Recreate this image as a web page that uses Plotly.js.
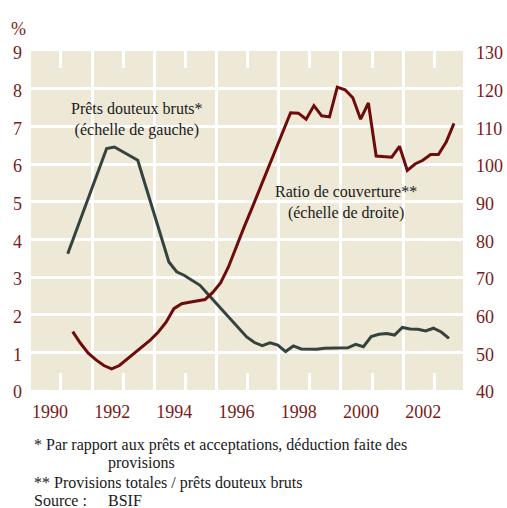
<!DOCTYPE html>
<html>
<head>
<meta charset="utf-8">
<script src="https://cdn.plot.ly/plotly-3.0.1.min.js"></script>
<style>html,body{margin:0;padding:0;background:#fff;}#chart{width:507px;height:508px;}</style>
</head>
<body>
<div id="chart"></div>
<script>
// Prêts douteux bruts (% , échelle de gauche)
const grossX = [1990.62, 1991.87, 1992.12, 1992.87, 1993.87, 1994.12, 1994.37, 1994.87, 1995.12, 1996.37, 1996.62, 1996.87, 1997.12, 1997.37, 1997.62, 1997.87, 1998.12, 1998.37, 1998.62, 1998.87, 1999.12, 1999.37, 1999.62, 1999.87, 2000.12, 2000.37, 2000.62, 2000.87, 2001.12, 2001.37, 2001.62, 2001.87, 2002.12, 2002.37, 2002.62, 2002.87];
const grossY = [3.62, 6.41, 6.45, 6.10, 3.40, 3.14, 3.04, 2.78, 2.55, 1.41, 1.26, 1.18, 1.25, 1.19, 1.02, 1.17, 1.09, 1.08, 1.08, 1.11, 1.11, 1.11, 1.12, 1.21, 1.15, 1.42, 1.48, 1.50, 1.46, 1.66, 1.62, 1.61, 1.57, 1.64, 1.54, 1.37];

// Ratio de couverture (échelle de droite)
const ratioX = [1990.78, 1991.03, 1991.28, 1991.53, 1991.78, 1992.03, 1992.28, 1992.53, 1992.78, 1993.03, 1993.28, 1993.53, 1993.78, 1994.03, 1994.28, 1994.53, 1994.78, 1995.03, 1995.28, 1995.53, 1995.78, 1996.03, 1996.28, 1996.53, 1996.78, 1997.03, 1997.28, 1997.53, 1997.78, 1998.03, 1998.28, 1998.53, 1998.78, 1999.03, 1999.28, 1999.53, 1999.78, 2000.03, 2000.28, 2000.53, 2000.78, 2001.03, 2001.28, 2001.53, 2001.78, 2002.03, 2002.28, 2002.53, 2002.78, 2003.03];
const ratioY = [55.5, 52.4, 49.8, 48.0, 46.5, 45.6, 46.5, 48.2, 49.9, 51.5, 53.3, 55.4, 58.0, 61.6, 62.9, 63.3, 63.7, 64.0, 65.9, 68.4, 72.6, 78.0, 83.1, 88.1, 93.2, 98.3, 103.4, 108.5, 113.6, 113.5, 111.9, 115.5, 112.8, 112.5, 120.4, 119.7, 117.6, 111.9, 116.2, 102.1, 101.9, 101.8, 104.7, 98.3, 100.0, 101.0, 102.5, 102.5, 105.8, 110.8];

// Axis ticks
const yearTickVals = [1990.4, 1992.4, 1994.4, 1996.4, 1998.4, 2000.4, 2002.4];
const yearTickText = ['1990', '1992', '1994', '1996', '1998', '2000', '2002'];
const yearGridVals = [1991.4, 1993.4, 1995.4, 1997.4, 1999.4, 2001.4];
const leftTicks = [0, 1, 2, 3, 4, 5, 6, 7, 8, 9];
const rightTicks = [40, 50, 60, 70, 80, 90, 100, 110, 120, 130];

const FONT = 'Liberation Serif, DejaVu Serif, serif';
const AXRED = '#7a1a1a';
const INK = '#1a1a1a';

const traces = [
  {x: grossX, y: grossY, type: 'scatter', mode: 'lines', xaxis: 'x', yaxis: 'y',
   line: {color: '#35433f', width: 3}, hoverinfo: 'skip'},
  {x: ratioX, y: ratioY, type: 'scatter', mode: 'lines', xaxis: 'x', yaxis: 'y2',
   line: {color: '#6e0b0b', width: 3}, hoverinfo: 'skip'}
];

const layout = {
  width: 507, height: 508,
  margin: {l: 31, r: 44, t: 51, b: 118},
  paper_bgcolor: '#ffffff',
  plot_bgcolor: '#eee9d7',
  showlegend: false,
  font: {family: FONT, color: INK},
  xaxis: {
    range: [1989.44, 2003.32], fixedrange: true,
    tickmode: 'array', tickvals: yearTickVals, ticktext: yearTickText,
    ticks: 'inside', ticklen: 17, tickwidth: 3, tickcolor: '#ffffff', mirror: 'ticks',
    ticklabelshift: -11, ticklabelstandoff: 9,
    tickfont: {family: FONT, size: 18, color: AXRED},
    showgrid: false, zeroline: false, showline: false,
    minor: {tickmode: 'array', tickvals: yearGridVals, showgrid: true, gridcolor: '#ffffff', gridwidth: 3, ticks: ''}
  },
  yaxis: {
    range: [0, 9], fixedrange: true,
    tickmode: 'array', tickvals: leftTicks,
    ticks: '', ticklabelstandoff: 8, ticklabelshift: 2,
    tickfont: {family: FONT, size: 18, color: AXRED},
    showgrid: true, gridcolor: '#ffffff', gridwidth: 3,
    zeroline: false, showline: false
  },
  yaxis2: {
    range: [40, 130], fixedrange: true, overlaying: 'y', side: 'right',
    tickmode: 'array', tickvals: rightTicks,
    ticks: '', ticklabelstandoff: 12, ticklabelshift: 2,
    tickfont: {family: FONT, size: 18, color: AXRED},
    showgrid: false, zeroline: false, showline: false
  },
  annotations: [
    {text: '%', xref: 'paper', yref: 'paper', x: -0.028, y: 1.065, showarrow: false,
     xanchor: 'center', yanchor: 'middle', font: {family: FONT, size: 18, color: AXRED}},
    {text: 'Prêts douteux bruts*<br>(échelle de gauche)', xref: 'paper', yref: 'paper',
     x: 0.2465, y: 0.798, showarrow: false, xanchor: 'center', yanchor: 'middle', align: 'center',
     font: {family: FONT, size: 16, color: INK}},
    {text: 'Ratio de couverture**<br>(échelle de droite)', xref: 'paper', yref: 'paper',
     x: 0.729, y: 0.552, showarrow: false, xanchor: 'center', yanchor: 'middle', align: 'center',
     font: {family: FONT, size: 16, color: INK}},
    {text: '* Par rapport aux prêts et acceptations, déduction faite des', xref: 'paper', yref: 'paper',
     x: 0.0023, y: -0.1613, showarrow: false, xanchor: 'left', yanchor: 'middle',
     font: {family: FONT, size: 16, color: INK}},
    {text: 'provisions', xref: 'paper', yref: 'paper',
     x: 0.1736, y: -0.2153, showarrow: false, xanchor: 'left', yanchor: 'middle',
     font: {family: FONT, size: 16, color: INK}},
    {text: '** Provisions totales / prêts douteux bruts', xref: 'paper', yref: 'paper',
     x: 0.0023, y: -0.2734, showarrow: false, xanchor: 'left', yanchor: 'middle',
     font: {family: FONT, size: 16, color: INK}},
    {text: 'Source :', xref: 'paper', yref: 'paper',
     x: 0.0023, y: -0.3245, showarrow: false, xanchor: 'left', yanchor: 'middle',
     font: {family: FONT, size: 16, color: INK}},
    {text: 'BSIF', xref: 'paper', yref: 'paper',
     x: 0.1736, y: -0.3245, showarrow: false, xanchor: 'left', yanchor: 'middle',
     font: {family: FONT, size: 16, color: INK}}
  ]
};

Plotly.newPlot('chart', traces, layout, {staticPlot: true, displayModeBar: false});
</script>
</body>
</html>
